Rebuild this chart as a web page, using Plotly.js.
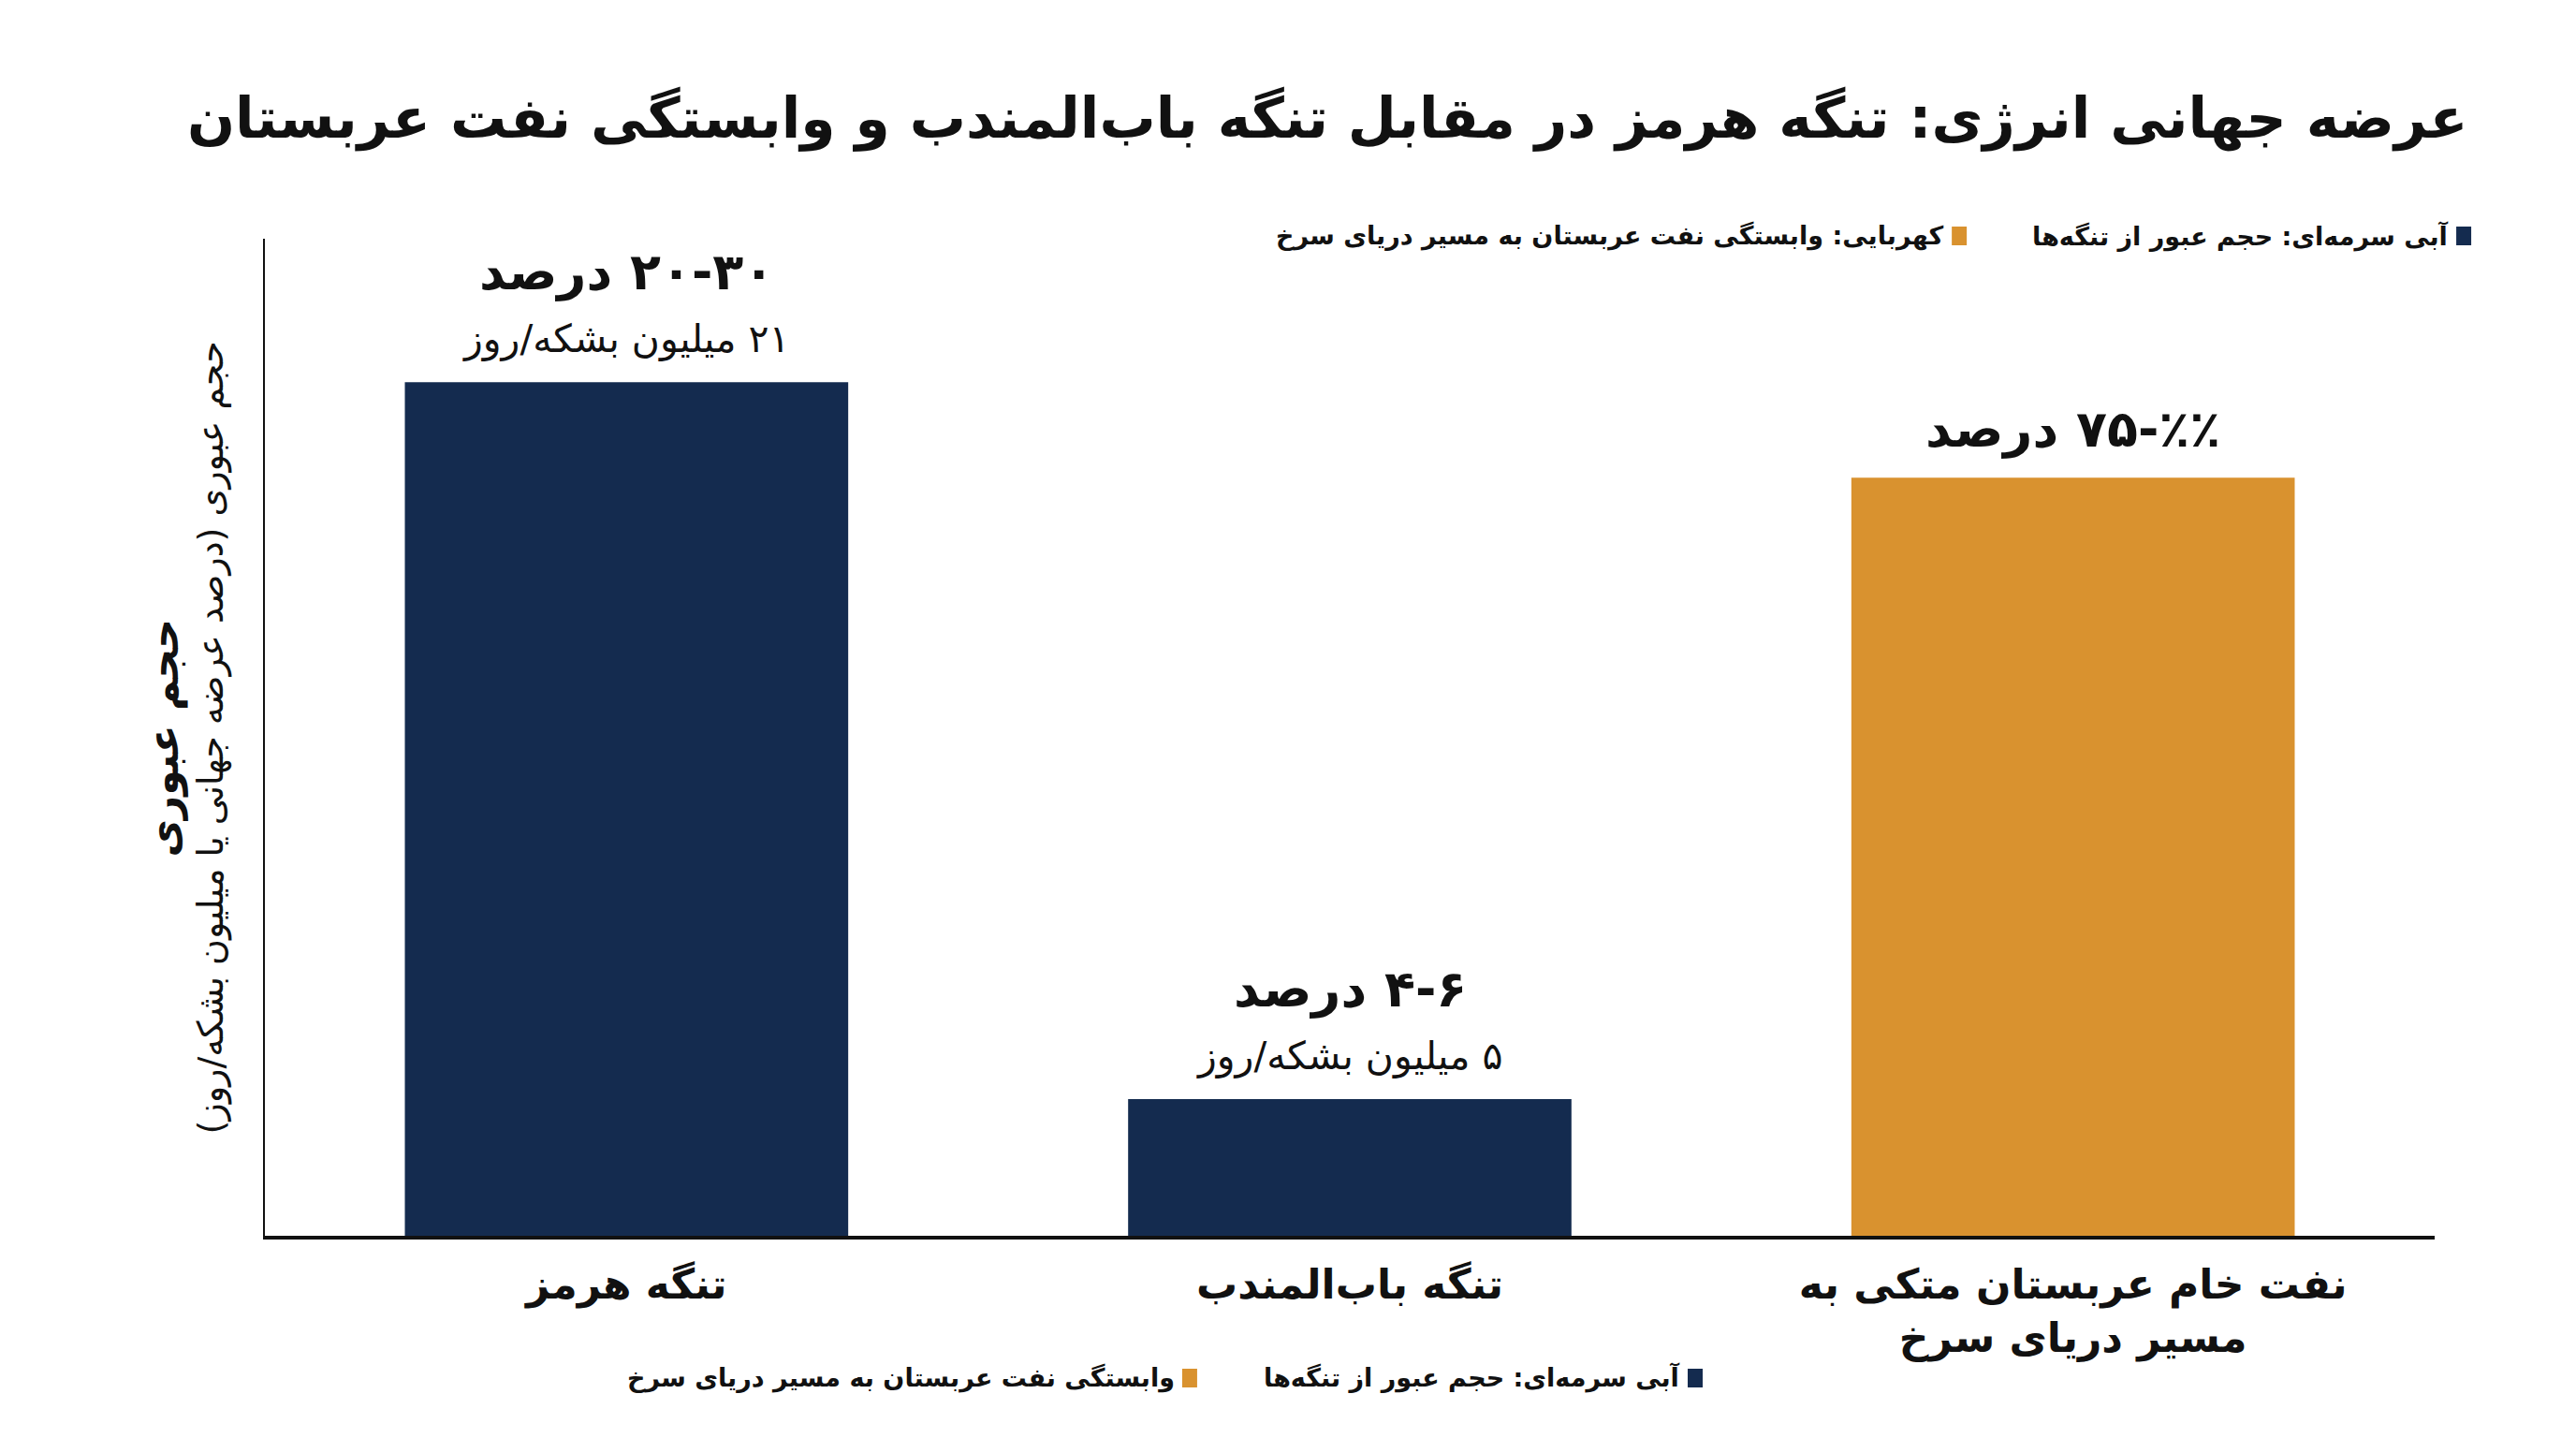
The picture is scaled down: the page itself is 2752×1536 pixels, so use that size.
<!DOCTYPE html>
<html lang="fa">
<head>
<meta charset="utf-8">
<script src="https://cdn.plot.ly/plotly-3.0.1.min.js"></script>
<style>
  html, body { margin: 0; padding: 0; background: #fff; }
  #chart { width: 2752px; height: 1536px; }
</style>
</head>
<body>
<div id="chart"></div>
<script>
/* Hormuz vs Bab el-Mandeb transit volumes and Saudi Red Sea dependency */

// ---- data ----
const categories = ["تنگه هرمز", "تنگه باب‌المندب", "نفت خام عربستان متکی به<br>مسیر دریای سرخ"];
const values     = [25, 4, 22.2];            // bar heights (relative scale, no ticks shown)
const groups     = ["transit", "transit", "dependency"];
const headlines  = ["۲۰-۳۰ درصد", "۴-۶ درصد", "٪٪-۷۵ درصد"];
const sublines   = ["۲۱ میلیون بشکه/روز", "۵ میلیون بشکه/روز", ""];
const legendTop  = ["آبی سرمه‌ای: حجم عبور از تنگه‌ها", "کهربایی: وابستگی نفت عربستان به مسیر دریای سرخ"];
const legendBot  = ["آبی سرمه‌ای: حجم عبور از تنگه‌ها", "وابستگی نفت عربستان به مسیر دریای سرخ"];
const titleText  = "عرضه جهانی انرژی: تنگه هرمز در مقابل تنگه باب‌المندب و وابستگی نفت عربستان";
const yTitleMain = "حجم عبوری";
const yTitleSub  = "حجم عبوری (درصد عرضه جهانی یا میلیون بشکه/روز)";

// ---- styling ----
const NAVY = "#142b4f", AMBER = "#d9922f", INK = "#111111";
const FONT = "DejaVu Sans, sans-serif";
const GROUP_COLORS = { transit: NAVY, dependency: AMBER };

// wrap each line in an RTL embedding so the browser orders Persian text right-to-left
const rtl = s => s.split("<br>").map(l => "\u202B" + l + "\u202C").join("<br>");

const trace = {
  type: "bar",
  x: categories,
  y: values,
  width: 0.613,
  marker: { color: groups.map(g => GROUP_COLORS[g]) },
  hoverinfo: "skip",
  showlegend: false,
};

const annotations = [];
categories.forEach((c, i) => {
  annotations.push({
    x: c, y: values[i], xref: "x", yref: "y",
    text: rtl(headlines[i]), showarrow: false,
    yanchor: "middle", yshift: sublines[i] ? 118 : 52,
    font: { family: FONT, size: 54, color: INK, weight: 700 },
  });
  if (sublines[i]) {
    annotations.push({
      x: c, y: values[i], xref: "x", yref: "y",
      text: rtl(sublines[i]), showarrow: false,
      yanchor: "middle", yshift: 46,
      font: { family: FONT, size: 41, color: INK },
    });
  }
});

// y-axis title, two rotated lines
annotations.push(
  { x: -0.0466, y: 0.5, xref: "paper", yref: "paper", xanchor: "center", yanchor: "middle",
    textangle: -90, showarrow: false,
    text: rtl(yTitleMain), font: { family: FONT, size: 44, color: INK, weight: 700 } },
  { x: -0.0246, y: 0.5, xref: "paper", yref: "paper", xanchor: "center", yanchor: "middle",
    textangle: -90, showarrow: false,
    text: rtl(yTitleSub), font: { family: FONT, size: 38, color: INK } }
);

// RTL legends (swatch on the right of the label), top and bottom
const shapes = [];
const legendRows = [
  { labels: legendTop, xs: [1.0134, 0.7809], y: 1.0028 },
  { labels: legendBot, xs: [0.6592, 0.4262], y: -0.1427 },
];
const swatchColors = [NAVY, AMBER];
legendRows.forEach(row => {
  row.labels.forEach((lab, k) => {
    shapes.push({
      type: "rect", xref: "paper", yref: "paper",
      xsizemode: "pixel", ysizemode: "pixel",
      xanchor: row.xs[k], yanchor: row.y,
      x0: -8, x1: 8, y0: -10, y1: 10,
      fillcolor: swatchColors[k], line: { width: 0 },
    });
    annotations.push({
      x: row.xs[k], y: row.y, xref: "paper", yref: "paper",
      xanchor: "right", yanchor: "middle", xshift: -14, showarrow: false,
      text: rtl(lab), font: { family: FONT, size: 27, color: INK, weight: 700 },
    });
  });
});

const layout = {
  width: 2752, height: 1536,
  paper_bgcolor: "#ffffff", plot_bgcolor: "#ffffff",
  font: { family: FONT, color: INK },
  margin: { l: 283, r: 151, t: 255, b: 216 },
  title: {
    text: rtl(titleText),
    xref: "container", x: 0.958, xanchor: "right",
    yref: "container", y: 0.918, yanchor: "middle",
    font: { family: FONT, size: 60, color: INK, weight: 700 },
  },
  xaxis: {
    type: "category",
    tickvals: categories,
    ticktext: categories.map(rtl),
    showline: true, linecolor: INK, linewidth: 4,
    ticks: "", showgrid: false, zeroline: false,
    ticklabelstandoff: 10,
    tickfont: { family: FONT, size: 44, color: INK, weight: 700 },
  },
  yaxis: {
    range: [0, 29.2],
    showline: true, linecolor: INK, linewidth: 2,
    showticklabels: false, ticks: "", showgrid: false, zeroline: false,
  },
  shapes: shapes,
  annotations: annotations,
  showlegend: false,
};

Plotly.newPlot("chart", [trace], layout, { displayModeBar: false, staticPlot: true });
</script>
</body>
</html>
